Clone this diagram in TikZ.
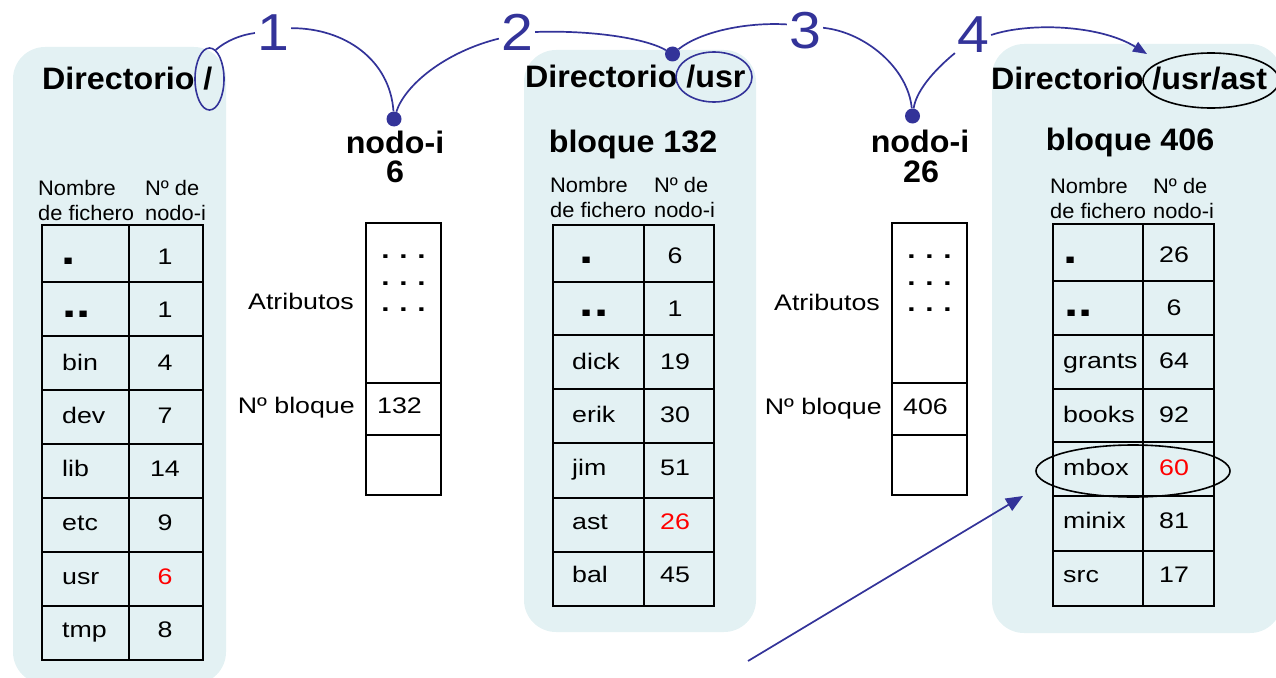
\documentclass[tikz,border=0pt]{standalone}
\usepackage{fontspec}
\setmainfont{Liberation Sans}[FakeStretch=1.04]
\newfontfamily\tabfont{Liberation Sans}[FakeStretch=1.19]
\newfontfamily\stepfont{Liberation Sans}[FakeStretch=1.1]
\usetikzlibrary{arrows.meta,shapes.geometric}

\definecolor{panelfill}{HTML}{E3F1F3}
\definecolor{linkblue}{HTML}{333399}
\definecolor{hotred}{HTML}{FF0000}

% a row of three spaced dots inside an i-node
\newcommand{\dotrow}{.\hspace{9.7pt}.\hspace{9.7pt}.}

\tikzset{
  panel/.style={fill=panelfill, draw=none, rounded corners=32pt},
  title/.style={font=\fontsize{31}{34}\selectfont\bfseries, inner sep=0pt},
  hdr/.style={font=\fontsize{21}{25}\selectfont, inner sep=0pt, anchor=base west},
  cell/.style={font=\tabfont\fontsize{22.5}{26}\selectfont, inner sep=0pt},
  celldots/.style={font=\tabfont\bfseries\fontsize{43}{43}\selectfont, inner sep=0pt, anchor=base},
  attrdots/.style={font=\tabfont\bfseries\fontsize{25}{26.5}\selectfont, inner sep=0pt, align=center, anchor=center},
  steplabel/.style={font=\stepfont\fontsize{52}{56}\selectfont, text=linkblue, inner xsep=2pt, inner ysep=0pt},
  rule/.style={line width=1.8pt, line cap=rect},
  link/.style={draw=linkblue, line width=1.7pt},
  pin/.style={circle, fill=linkblue, minimum size=15pt, inner sep=0pt},
  ring/.style={ellipse, draw, line width=1.6pt, inner sep=0pt},
}

\begin{document}
\begin{tikzpicture}[x=1pt,y=-1pt]
\useasboundingbox (0,0) rectangle (1276,677);

% background panels of the three directory blocks
\fill[panel] (13,47) rectangle (226,684);
\fill[panel] (524,50) rectangle (756,632);
\fill[panel] (992,44) rectangle (1282,633);

% ---------- root directory ----------
\node[title, anchor=base west] (tA) at (42,89) {Directorio /};
\node[hdr] (hA1) at (38,195) {Nombre};
\node[hdr] (hA2) at (38,220) {de fichero};
\node[hdr] (hA3) at (145,195) {Nº de};
\node[hdr] (hA4) at (145,220) {nodo-i};
\draw[rule] (42,225) rectangle (203,660);
\draw[rule] (129,225) -- (129,660);
\foreach \y in {282,336,390,444,498,552,606} \draw[rule] (42,\y) -- (203,\y);
\node[celldots] (rA-d1) at (69,264) {.};
\node[celldots] (rA-d2) at (76.5,317) {..};
\node[cell, anchor=base] (rA-n1) at (165,264) {1};
\node[cell, anchor=base] (rA-n2) at (165,317) {1};
\foreach \nm/\num/\yb/\col [count=\i] in {bin/4/370/black, dev/7/423/black, lib/14/476/black, etc/9/530/black, usr/6/584/hotred, tmp/8/637/black}{
  \node[cell, anchor=base west] (rA-name-\i) at (62,\yb) {\nm};
  \node[cell, anchor=base, text=\col] (rA-num-\i) at (165,\yb) {\num};
}

% ---------- i-node 6 ----------
\node[title, anchor=base] (iA1) at (395,153) {nodo-i};
\node[title, anchor=base] (iA2) at (395,182) {6};
\draw[rule] (366,223) rectangle (441,495);
\draw[rule] (366,383) -- (441,383);
\draw[rule] (366,435) -- (441,435);
\node[attrdots] (iA-dots) at (403.5,283.3) {\dotrow\\\dotrow\\\dotrow};
\node[cell, anchor=base east] (iA-attr) at (354,309) {Atributos};
\node[cell, anchor=base east] (iA-blk) at (355,413) {Nº bloque};
\node[cell, anchor=base west] (iA-val) at (377,413) {132};

% ---------- directory /usr ----------
\node[title, anchor=base west] (tB) at (525,88) {Directorio /usr};
\node[title, anchor=base] (bB) at (633,152) {bloque 132};
\node[hdr] (hB1) at (550,192) {Nombre};
\node[hdr] (hB2) at (550,217) {de fichero};
\node[hdr] (hB3) at (654,192) {Nº de};
\node[hdr] (hB4) at (654,217) {nodo-i};
\draw[rule] (553,225) rectangle (714,606);
\draw[rule] (644,225) -- (644,606);
\foreach \y in {282,335,389,443,498,552} \draw[rule] (553,\y) -- (714,\y);
\node[celldots] (rB-d1) at (587,263) {.};
\node[celldots] (rB-d2) at (594,316) {..};
\node[cell, anchor=base] (rB-n1) at (675,263) {6};
\node[cell, anchor=base] (rB-n2) at (675,316) {1};
\foreach \nm/\num/\yb/\col [count=\i] in {dick/19/369/black, erik/30/422/black, jim/51/475/black, ast/26/529/hotred, bal/45/582/black}{
  \node[cell, anchor=base west] (rB-name-\i) at (572,\yb) {\nm};
  \node[cell, anchor=base, text=\col] (rB-num-\i) at (675,\yb) {\num};
}

% ---------- i-node 26 ----------
\node[title, anchor=base] (iB1) at (920,152) {nodo-i};
\node[title, anchor=base] (iB2) at (921,182) {26};
\draw[rule] (892,223) rectangle (967,495);
\draw[rule] (892,383) -- (967,383);
\draw[rule] (892,435) -- (967,435);
\node[attrdots] (iB-dots) at (929.5,283.3) {\dotrow\\\dotrow\\\dotrow};
\node[cell, anchor=base east] (iB-attr) at (880,310) {Atributos};
\node[cell, anchor=base east] (iB-blk) at (882,414) {Nº bloque};
\node[cell, anchor=base west] (iB-val) at (903,414) {406};

% ---------- directory /usr/ast ----------
\node[title, anchor=base west] (tC) at (991,89) {Directorio /usr/ast};
\node[title, anchor=base] (bC) at (1130,150) {bloque 406};
\node[hdr] (hC1) at (1050,193) {Nombre};
\node[hdr] (hC2) at (1050,218) {de fichero};
\node[hdr] (hC3) at (1153,193) {Nº de};
\node[hdr] (hC4) at (1153,218) {nodo-i};
\draw[rule] (1053,224) rectangle (1214,606);
\draw[rule] (1143,224) -- (1143,606);
\foreach \y in {281,335,389,442,496,551} \draw[rule] (1053,\y) -- (1214,\y);
\node[celldots] (rC-d1) at (1071,263) {.};
\node[celldots] (rC-d2) at (1078.5,316) {..};
\node[cell, anchor=base] (rC-n1) at (1174,262) {26};
\node[cell, anchor=base] (rC-n2) at (1174,315) {6};
\foreach \nm/\num/\yb/\col [count=\i] in {grants/64/368/black, books/92/422/black, mbox/60/475/hotred, minix/81/528/black, src/17/582/black}{
  \node[cell, anchor=base west] (rC-name-\i) at (1063,\yb) {\nm};
  \node[cell, anchor=base, text=\col] (rC-num-\i) at (1174,\yb) {\num};
}

% ---------- highlighted names ----------
\node[ring, draw=linkblue, minimum width=29pt, minimum height=62pt] (e1) at (209.5,79) {};
\node[ring, draw=linkblue, minimum width=76pt, minimum height=50pt] (e2) at (714,77) {};
\node[ring, draw=black, minimum width=136pt, minimum height=55pt] (e3) at (1211,80.5) {};
\node[ring, draw=black, minimum width=194pt, minimum height=52pt] (e4) at (1133,471) {};

% ---------- lookup steps ----------
\node[steplabel] (n1) at (273,33) {1};
\node[steplabel] (n2) at (517,32) {2};
\node[steplabel] (n3) at (805,31) {3};
\node[steplabel] (n4) at (973,35) {4};
\coordinate (tip4) at (1147,54);
\coordinate (tail5) at (748,661);
\coordinate (tip5) at (1023,496);

\node[pin] (d1) at (394,119) {};
\node[pin] (d2) at (672.5,54) {};
\node[pin] (d3) at (912.5,116) {};

\draw[link] (e1.78) .. controls (226,41) and (240,35) .. (n1.west);
\draw[link] (n1.15) .. controls (345,28) and (390,60) .. (d1);
\draw[link] (d1) .. controls (405,85) and (445,52) .. (n2.200);
\draw[link] (n2.east) .. controls (590,30) and (645,38) .. (d2);
\draw[link] (d2) .. controls (700,32) and (745,22) .. (n3.160);
\draw[link] (n3.10) .. controls (865,32) and (908,68) .. (d3);
\draw[link] (d3) .. controls (916,92) and (932,72) .. (n4.south west);
\draw[link, -{Triangle[length=14pt,width=11pt]}] (n4.east) .. controls (1030,22) and (1100,25) .. (tip4);
\draw[link, -{Triangle[length=17pt,width=14pt]}] (tail5) -- (tip5);
\end{tikzpicture}
\end{document}
